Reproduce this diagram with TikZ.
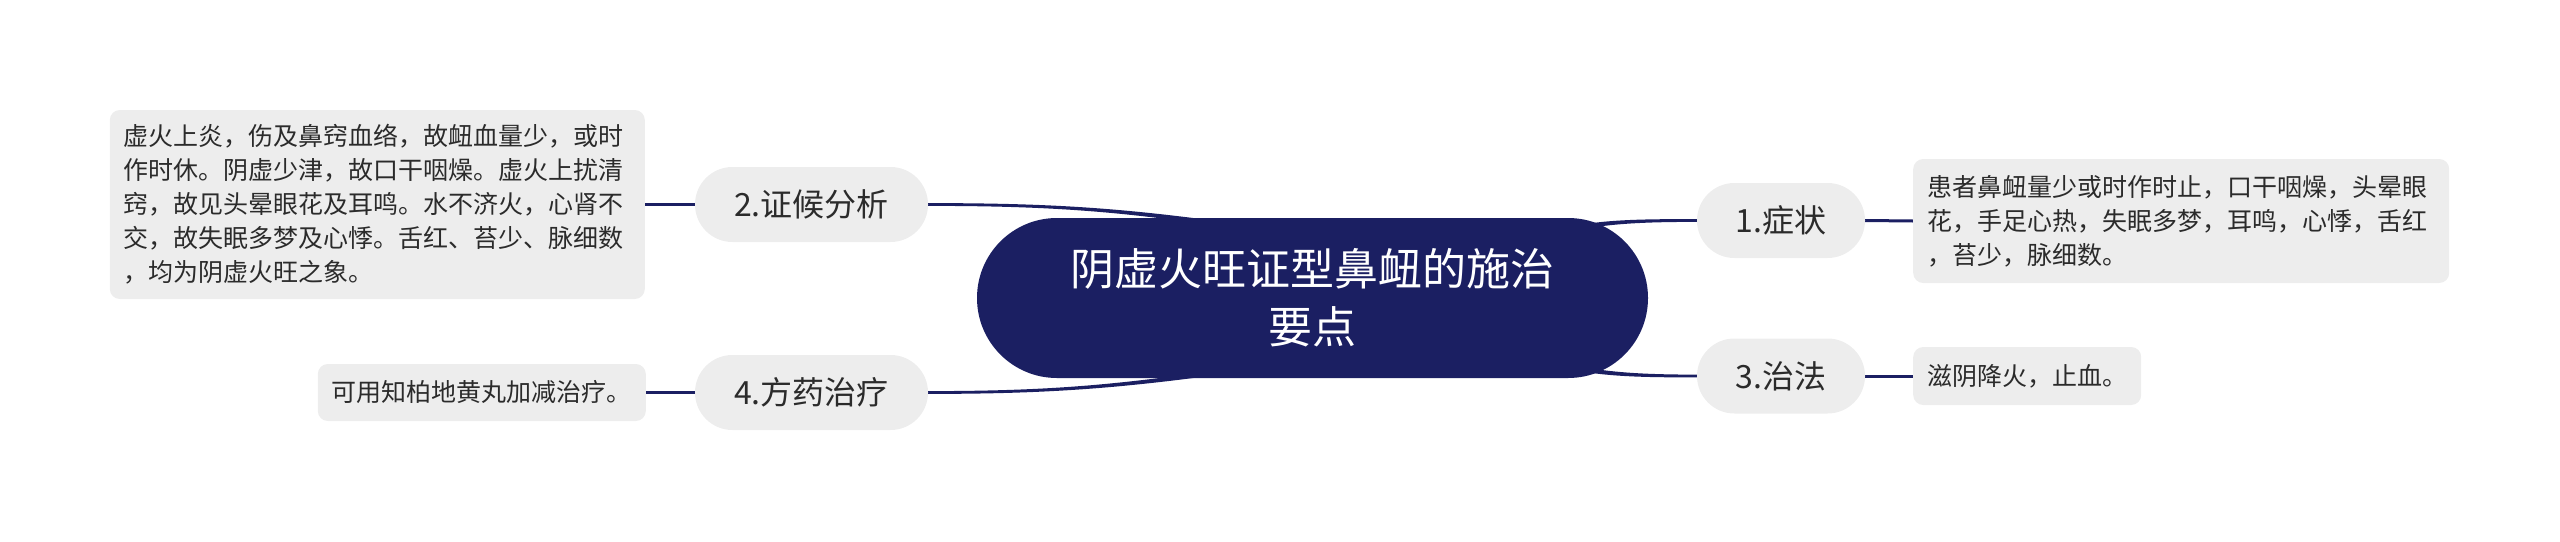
\documentclass[tikz,border=0pt]{standalone}
\usepackage{fontspec}
\setmainfont{Noto Sans CJK SC}
\usetikzlibrary{calc}
\pgfdeclarelayer{background}
\pgfsetlayers{background,main}
\definecolor{navy}{HTML}{1B1F62}
\definecolor{pill}{HTML}{EDEDED}
\definecolor{ink}{HTML}{2B2B2B}
\tikzset{
  centernode/.style={fill=navy, text=white, rounded corners=79.9pt, minimum width=671pt, minimum height=160pt, align=center, inner sep=0pt, font=\fontsize{44pt}{58pt}\selectfont},
  branchnode/.style={fill=pill, text=ink, rounded corners=37.4pt, minimum height=75pt, inner sep=0pt, font=\fontsize{32pt}{38pt}\selectfont},
  leafnode/.style={fill=pill, text=ink, rounded corners=10pt, inner xsep=14pt, inner ysep=0pt, align=left, font=\fontsize{25pt}{34pt}\selectfont},
  leafline/.style={draw=navy, line width=3pt},
  taper/.style={fill=navy, draw=none}
}
\begin{document}
\begin{tikzpicture}[x=1pt, y=-1pt]
\useasboundingbox (0,0) rectangle (2560,541);
% central node
\node[centernode] (c) at (1312.5,298) {阴虚火旺证型鼻衄的施治\\要点};
% branch nodes
\node[branchnode, minimum width=168pt] (n1) at (1781,220.5) {1.症状};
\node[branchnode, minimum width=168pt] (n3) at (1781,376) {3.治法};
\node[branchnode, minimum width=233pt] (n2) at (811.5,204.5) {2.证候分析};
\node[branchnode, minimum width=233pt] (n4) at (811.5,392.5) {4.方药治疗};
% leaves
\node[leafnode, anchor=east, text width=507pt, minimum height=189pt] (l2) at (645,204.5) {虚火上炎，伤及鼻窍血络，故衄血量少，或时\\作时休。阴虚少津，故口干咽燥。虚火上扰清\\窍，故见头晕眼花及耳鸣。水不济火，心肾不\\交，故失眠多梦及心悸。舌红、苔少、脉细数\\，均为阴虚火旺之象。};
\node[leafnode, anchor=east, minimum height=57pt] (l4) at (646,392.5) {可用知柏地黄丸加减治疗。};
\node[leafnode, anchor=west, text width=508pt, minimum height=124pt] (l1) at (1913,221) {患者鼻衄量少或时作时止，口干咽燥，头晕眼\\花，手足心热，失眠多梦，耳鸣，心悸，舌红\\，苔少，脉细数。};
\node[leafnode, anchor=west, minimum height=58pt] (l3) at (1913,376) {滋阴降火，止血。};
\begin{pgfonlayer}{background}
% tapered connectors from the centre
\fill[taper] ($(n2.east)+(0,-1.4)$) .. controls ($(n2.east)+(122,-1.4)$) and ($(c.north west)+(143,-10)$) .. ($(c.north west)+(253,5)$)
  -- ($(c.north west)+(253,10)$) .. controls ($(c.north west)+(143,-6.5)$) and ($(n2.east)+(122,1.4)$) .. ($(n2.east)+(0,1.4)$) -- cycle;
\fill[taper] ($(n4.east)+(0,1.4)$) .. controls ($(n4.east)+(122,1.4)$) and ($(c.south west)+(143,10)$) .. ($(c.south west)+(253,-5)$)
  -- ($(c.south west)+(253,-10)$) .. controls ($(c.south west)+(143,6.5)$) and ($(n4.east)+(122,-1.4)$) .. ($(n4.east)+(0,-1.4)$) -- cycle;
\fill[taper] ($(n1.west)+(0,-1.4)$) .. controls ($(n1.west)+(-57,-1.4)$) and ($(c.north east)+(-48,1.5)$) .. ($(c.north east)+(-88,11)$)
  -- ($(c.north east)+(-88,16)$) .. controls ($(c.north east)+(-48,6)$) and ($(n1.west)+(-57,1.4)$) .. ($(n1.west)+(0,1.4)$) -- cycle;
\fill[taper] ($(n3.west)+(0,1.4)$) .. controls ($(n3.west)+(-57,1.4)$) and ($(c.south east)+(-48,-1.5)$) .. ($(c.south east)+(-88,-11)$)
  -- ($(c.south east)+(-88,-16)$) .. controls ($(c.south east)+(-48,-6)$) and ($(n3.west)+(-57,-1.4)$) .. ($(n3.west)+(0,-1.4)$) -- cycle;
% leaf connectors
\draw[leafline] (l2.east) -- (n2.west);
\draw[leafline] (l4.east) -- (n4.west);
\draw[leafline] (n1.east) -- (l1.west);
\draw[leafline] (n3.east) -- (l3.west);
\end{pgfonlayer}
\end{tikzpicture}
\end{document}
